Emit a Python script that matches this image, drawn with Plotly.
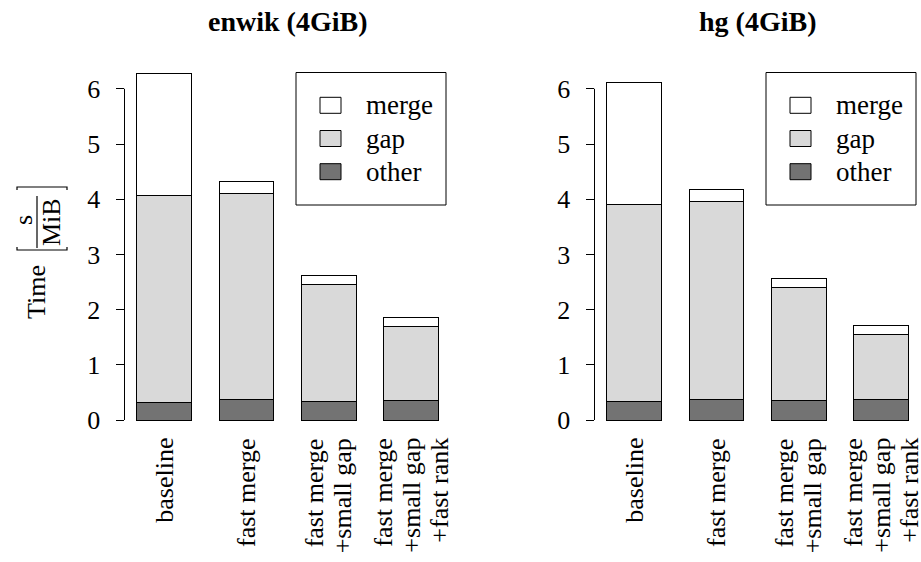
import plotly.graph_objects as go

# ---- data ----
categories = ["baseline", "fast merge", "fast merge<br>+small gap",
              "fast merge<br>+small gap<br>+fast rank"]
enwik_other = [0.32, 0.37, 0.34, 0.36]
enwik_gap = [3.74, 3.74, 2.12, 1.33]
enwik_merge = [2.22, 0.21, 0.16, 0.16]
hg_other = [0.34, 0.38, 0.36, 0.37]
hg_gap = [3.57, 3.58, 2.04, 1.18]
hg_merge = [2.21, 0.22, 0.17, 0.16]
series_names = ["other", "gap", "merge"]
titles = ["enwik (4GiB)", "hg (4GiB)"]
y_ticks = [0, 1, 2, 3, 4, 5, 6]

colors = {"other": "#737373", "gap": "#d9d9d9", "merge": "#ffffff"}
FONT = "Liberation Serif"
W, H = 921, 562
LINE_PITCH = 28


def fx(p):
    return p / W


def fy(p):
    return 1 - p / H


fig = go.Figure()
panels = [(enwik_other, enwik_gap, enwik_merge), (hg_other, hg_gap, hg_merge)]
for i, (oth, gap, mer) in enumerate(panels):
    xa = "x" if i == 0 else "x2"
    ya = "y" if i == 0 else "y2"
    for name, vals in zip(series_names, (oth, gap, mer)):
        fig.add_trace(go.Bar(x=categories, y=vals, name=name, xaxis=xa, yaxis=ya,
                             marker=dict(color=colors[name], line=dict(color="black", width=1)),
                             showlegend=False))

# layout geometry
ydom = [fy(425), fy(60)]
y_lo = (420 - 425) / 55.2
y_hi = (420 - 60) / 55.2
xr = [-0.482, 3.484]
xdoms = [[fx(124.5), fx(451)], [fx(594.5), 1.0]]

axis_font = dict(family=FONT, size=26, color="black")
common_x = dict(type="category", range=xr, showline=False, showgrid=False, zeroline=False,
                showticklabels=False, ticks="", fixedrange=True, automargin=False)
common_y = dict(range=[y_lo, y_hi], domain=ydom, showline=False, showgrid=False, zeroline=False,
                tickvals=y_ticks, ticks="outside", ticklen=8, tickwidth=1, tickcolor="black",
                tickfont=axis_font, ticklabelstandoff=10, fixedrange=True, automargin=False)

fig.update_layout(
    width=W, height=H, margin=dict(l=0, r=0, t=0, b=0, autoexpand=False),
    paper_bgcolor="white", plot_bgcolor="white",
    barmode="stack", bargap=1 / 3,
    xaxis=dict(domain=xdoms[0], anchor="y", **common_x),
    yaxis=dict(anchor="x", **common_y),
    xaxis2=dict(domain=xdoms[1], anchor="y2", **common_x),
    yaxis2=dict(anchor="x2", **common_y),
    font=dict(family=FONT, color="black"),
)

shapes = []
annotations = []
for i in range(2):
    xa = "x" if i == 0 else "x2"
    xd = "x domain" if i == 0 else "x2 domain"
    ya = "y" if i == 0 else "y2"
    # R-style y axis line from 0 to 6
    shapes.append(dict(type="line", xref=xd, yref=ya, x0=0, x1=0, y0=y_ticks[0], y1=y_ticks[-1],
                       line=dict(color="black", width=1)))
    # category labels (rotated, each line right-aligned towards the axis)
    for c in categories:
        lines = c.split("<br>")
        n = len(lines)
        for j, ln in enumerate(lines):
            annotations.append(dict(text=ln, xref=xa, yref="paper", x=c, y=fy(436),
                                    xshift=(j - (n - 1) / 2) * LINE_PITCH,
                                    textangle=-90, showarrow=False, xanchor="center",
                                    yanchor="top", font=axis_font))
    # title
    cx = (xdoms[i][0] + xdoms[i][1]) / 2
    annotations.append(dict(text="<b>%s</b>" % titles[i], xref="paper", yref="paper",
                            x=cx, y=fy(22), showarrow=False, xanchor="center", yanchor="middle",
                            font=dict(family=FONT, size=28, color="black")))
    # legend box
    bl = 296 if i == 0 else 766
    shapes.append(dict(type="rect", xref="paper", yref="paper", x0=fx(bl), x1=fx(bl + 150),
                       y0=fy(72.5), y1=fy(205), line=dict(color="black", width=1),
                       fillcolor="white", layer="above"))
    for name, cy in zip(["merge", "gap", "other"], [105.3, 138.5, 171.7]):
        shapes.append(dict(type="rect", xref="paper", yref="paper", x0=fx(bl + 24), x1=fx(bl + 45),
                           y0=fy(cy - 8), y1=fy(cy + 8), line=dict(color="black", width=1),
                           fillcolor=colors[name], layer="above"))
        annotations.append(dict(text=name, xref="paper", yref="paper", x=fx(bl + 68), y=fy(cy),
                                showarrow=False, xanchor="left", yanchor="middle",
                                font=dict(family=FONT, size=27, color="black")))

# y-axis title: Time [ s / MiB ]
annotations.append(dict(text="Time", xref="paper", yref="paper", x=fx(36), y=fy(292),
                        textangle=-90, showarrow=False, xanchor="center", yanchor="middle",
                        font=dict(family=FONT, size=26, color="black")))
annotations.append(dict(text="s", xref="paper", yref="paper", x=fx(23), y=fy(220),
                        textangle=-90, showarrow=False, xanchor="center", yanchor="middle",
                        font=dict(family=FONT, size=26, color="black")))
annotations.append(dict(text="MiB", xref="paper", yref="paper", x=fx(52), y=fy(222),
                        textangle=-90, showarrow=False, xanchor="center", yanchor="middle",
                        font=dict(family=FONT, size=26, color="black")))
shapes.append(dict(type="line", xref="paper", yref="paper", x0=fx(37), x1=fx(37),
                   y0=fy(196), y1=fy(248), line=dict(color="black", width=1.2)))
# brackets
shapes.append(dict(type="path", xref="paper", yref="paper",
                   path="M %f,%f L %f,%f L %f,%f L %f,%f" % (fx(17), fy(190), fx(17), fy(187),
                                                             fx(67), fy(187), fx(67), fy(190)),
                   line=dict(color="black", width=1.2)))
shapes.append(dict(type="path", xref="paper", yref="paper",
                   path="M %f,%f L %f,%f L %f,%f L %f,%f" % (fx(17), fy(247), fx(17), fy(250),
                                                             fx(67), fy(250), fx(67), fy(247)),
                   line=dict(color="black", width=1.2)))

fig.update_layout(shapes=shapes, annotations=annotations)
fig.write_html("out.html", config={"displayModeBar": False},
               post_script="document.body.style.margin='0';document.body.style.overflow='hidden';")
